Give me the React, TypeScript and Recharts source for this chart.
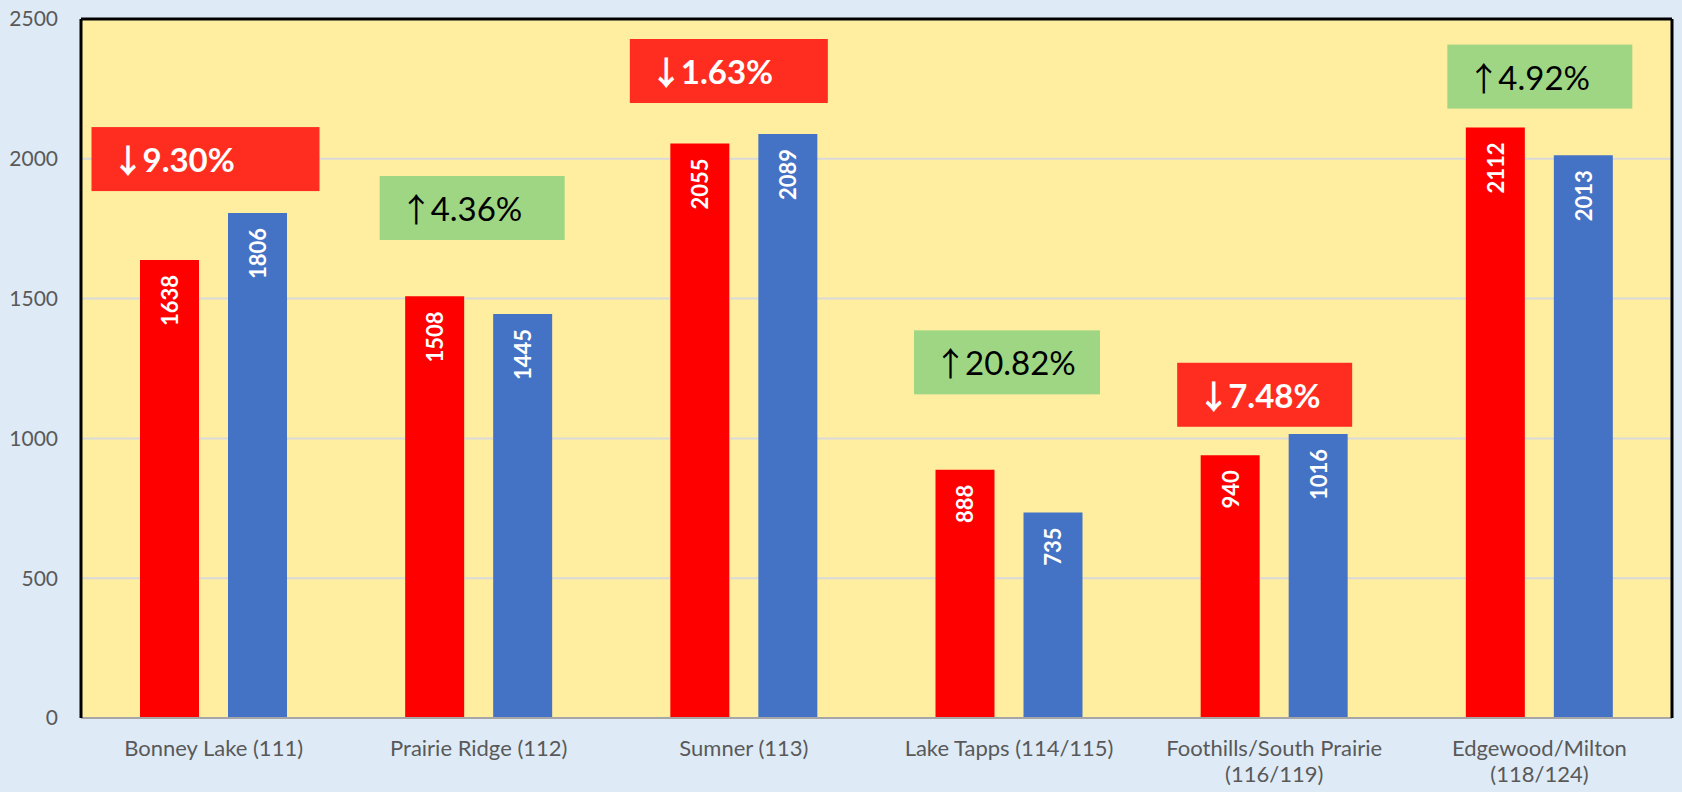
import React from 'react';
import {
  BarChart, Bar, XAxis, YAxis, CartesianGrid, ReferenceLine, LabelList,
} from 'recharts';

const districts = [
  'Bonney Lake (111)',
  'Prairie Ridge (112)',
  'Sumner (113)',
  'Lake Tapps (114/115)',
  'Foothills/South Prairie\n(116/119)',
  'Edgewood/Milton\n(118/124)',
];
const redValues = [1638, 1508, 2055, 888, 940, 2112];
const blueValues = [1806, 1445, 2089, 735, 1016, 2013];
const pctChange = [-9.30, 4.36, -1.63, 20.82, -7.48, 4.92];
// value on the y axis where each change badge sits
const badgeLevels = [1999, 1824, 2314, 1272, 1156, 2294];
const yTicks = [0, 500, 1000, 1500, 2000, 2500];

// badge box layout (offset from category centre, width) – styling only
const badgeBoxes = [
  { dx: -122, w: 228 },
  { dx: -99, w: 185 },
  { dx: -114, w: 198 },
  { dx: -95, w: 186 },
  { dx: -97, w: 175 },
  { dx: -92, w: 185 },
];

const FONT = 'Lato, "Noto Sans", sans-serif';
const BAR_SIZE = 59;
const BAR_GAP = 29;
const BADGE_H = 64;

const chartData = districts.map((name, i) => ({
  name,
  red: redValues[i],
  blue: blueValues[i],
  pct: pctChange[i],
  level: badgeLevels[i],
}));

const getBox = (props: any) => {
  const vb = props.viewBox || {};
  return {
    x: Number(props.x ?? vb.x),
    y: Number(props.y ?? vb.y),
    width: Number(props.width ?? vb.width),
    height: Number(props.height ?? vb.height),
  };
};

const BarValue = (props: any) => {
  const { x, y, width } = getBox(props);
  const cx = x + width / 2;
  const ty = y + 15;
  return (
    <text
      x={cx}
      y={ty}
      transform={`rotate(-90 ${cx} ${ty})`}
      textAnchor="end"
      dominantBaseline="central"
      fill="#FFFFFF"
      fontFamily={FONT}
      fontWeight={700}
      fontSize={22}
    >
      {props.value}
    </text>
  );
};

const Badge = (props: any) => {
  const { x, y, width, height } = getBox(props);
  const i = props.index as number;
  const row = chartData[i];
  if (!row) return null;
  const base = y + height;
  const perUnit = height / row.blue;
  const cy = base - row.level * perUnit;
  const center = x - BAR_GAP / 2;
  const box = badgeBoxes[i];
  const down = row.pct < 0;
  const left = center + box.dx;
  return (
    <g>
      <rect x={left} y={cy - BADGE_H / 2} width={box.w} height={BADGE_H} fill={down ? '#FF2D20' : '#9FD683'} />
      <text
        x={left + 20}
        y={cy}
        dominantBaseline="central"
        fill={down ? '#FFFFFF' : '#000000'}
        fontFamily={FONT}
        fontWeight={down ? 700 : 400}
        fontSize={33}
      >
        <tspan fontFamily="'Noto Sans CJK JP'" fontSize={33} fontWeight={down ? 700 : 400}>{down ? '\u2193' : '\u2191'}</tspan>
        <tspan dx={-2}>{Math.abs(row.pct).toFixed(2) + '%'}</tspan>
      </text>
    </g>
  );
};

const CategoryTick = (props: any) => {
  const { x, y, payload } = props;
  const lines = String(payload.value).split('\n');
  return (
    <text x={x} y={y} textAnchor="middle" fill="#595959" fontFamily={FONT} fontSize={22}>
      {lines.map((line, k) => (
        <tspan key={k} x={x} dy={k === 0 ? 30 : 25.5}>{line}</tspan>
      ))}
    </text>
  );
};

export default function App() {
  return (
    <div style={{ position: 'absolute', left: 0, top: 0, width: 1682, height: 792, background: '#DEEBF7' }}>
      <BarChart
        width={1682}
        height={792}
        data={chartData}
        margin={{ top: 19, right: 9, bottom: 0, left: 0 }}
        barSize={BAR_SIZE}
        barGap={BAR_GAP}
      >
        <CartesianGrid vertical={false} stroke="#D9D9D9" strokeWidth={2} fill="#FFEEA0" />
        <XAxis
          dataKey="name"
          height={74}
          tickLine={false}
          axisLine={{ stroke: '#A6A6A6', strokeWidth: 2 }}
          tick={<CategoryTick />}
          interval={0}
        />
        <YAxis
          width={81}
          domain={[0, 2500]}
          ticks={yTicks}
          tickLine={false}
          tickSize={6}
          tickMargin={17}
          axisLine={{ stroke: '#000000', strokeWidth: 3 }}
          tick={{ fill: '#595959', fontSize: 21, fontFamily: FONT }}
        />
        <YAxis
          yAxisId="right"
          orientation="right"
          width={1}
          domain={[0, 2500]}
          ticks={yTicks}
          tick={false}
          tickLine={false}
          axisLine={{ stroke: '#000000', strokeWidth: 3 }}
        />
        <ReferenceLine y={2500} stroke="#000000" strokeWidth={3} />
        <Bar dataKey="red" fill="#FF0000" isAnimationActive={false}>
          <LabelList dataKey="red" content={<BarValue />} />
        </Bar>
        <Bar dataKey="blue" fill="#4472C4" isAnimationActive={false}>
          <LabelList dataKey="blue" content={<BarValue />} />
          <LabelList dataKey="blue" content={<Badge />} />
        </Bar>
      </BarChart>
    </div>
  );
}
